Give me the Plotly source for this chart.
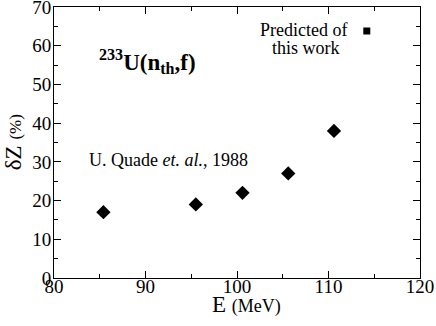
import plotly.graph_objects as go

energy = [85.4, 95.5, 100.6, 105.6, 110.6]
dz = [17.0, 19.0, 22.0, 27.0, 38.0]
x_ticks = [80, 90, 100, 110, 120]
y_ticks = [0, 10, 20, 30, 40, 50, 60, 70]

FONT = "Liberation Serif"

fig = go.Figure()
fig.add_trace(go.Scatter(
    x=energy, y=dz, mode="markers",
    marker=dict(symbol="diamond", size=11, color="black"),
    showlegend=False,
))
fig.add_trace(go.Scatter(
    x=[None], y=[None], mode="markers", name="",
    marker=dict(symbol="square", size=7, color="black"),
    showlegend=True,
))

axis_common = dict(
    showline=True, linecolor="black", linewidth=1, mirror="ticks",
    ticks="inside", ticklen=7, tickwidth=1, tickcolor="black",
    showgrid=False, zeroline=False,
    tickfont=dict(family=FONT, size=19, color="black"),
    ticklabeloverflow="allow",
    minor=dict(ticks="inside", ticklen=4, tickcolor="black", dtick=5),
)

fig.update_xaxes(range=[80, 120], tickvals=x_ticks,
                 ticktext=[str(v) for v in x_ticks],
                 ticklabelstandoff=-9, **axis_common)
fig.update_yaxes(range=[0, 70], tickvals=y_ticks,
                 ticktext=[str(v) for v in y_ticks],
                 ticklabelstandoff=-2, **axis_common)

# axis titles
fig.add_annotation(
    x=0.525, y=-0.097, xref="paper", yref="paper", xanchor="center", yanchor="middle",
    text="E <span style='font-size:18px'>(MeV)</span>", showarrow=False,
    font=dict(family=FONT, size=23, color="black"),
)
fig.add_annotation(
    x=-0.11, y=0.5, xref="paper", yref="paper", xanchor="center", yanchor="middle",
    text="δZ <span style='font-size:17px'>(%)</span>", showarrow=False, textangle=-90,
    font=dict(family=FONT, size=23, color="black"),
)

fig.add_annotation(
    x=84.7, y=56, xref="x", yref="y", xanchor="left", yanchor="middle",
    text="<b><sup>233</sup>U(n<sub>th</sub>,f)</b>", showarrow=False,
    font=dict(family=FONT, size=23, color="black"),
)
fig.add_annotation(
    x=83.6, y=30.5, xref="x", yref="y", xanchor="left", yanchor="middle",
    text="U. Quade <i>et. al.</i>, 1988", showarrow=False,
    font=dict(family=FONT, size=18, color="black"),
)
fig.add_annotation(
    x=107.3, y=64.1, xref="x", yref="y", xanchor="center", yanchor="middle",
    text="Predicted of", showarrow=False,
    font=dict(family=FONT, size=18, color="black"),
)
fig.add_annotation(
    x=107.5, y=59.4, xref="x", yref="y", xanchor="center", yanchor="middle",
    text="this work", showarrow=False,
    font=dict(family=FONT, size=18, color="black"),
)

fig.update_layout(
    width=436, height=326,
    margin=dict(l=54, r=16, t=7, b=48, autoexpand=False),
    paper_bgcolor="white", plot_bgcolor="white",
    font=dict(family=FONT, color="black"),
    legend=dict(
        x=0.8, y=0.911, xanchor="left", yanchor="middle",
        bgcolor="rgba(0,0,0,0)",
        font=dict(family=FONT, size=16, color="black"),
        itemwidth=30,
    ),
)

fig.write_html("out.html", post_script="document.body.style.margin='0';",
               config={"displayModeBar": False})
